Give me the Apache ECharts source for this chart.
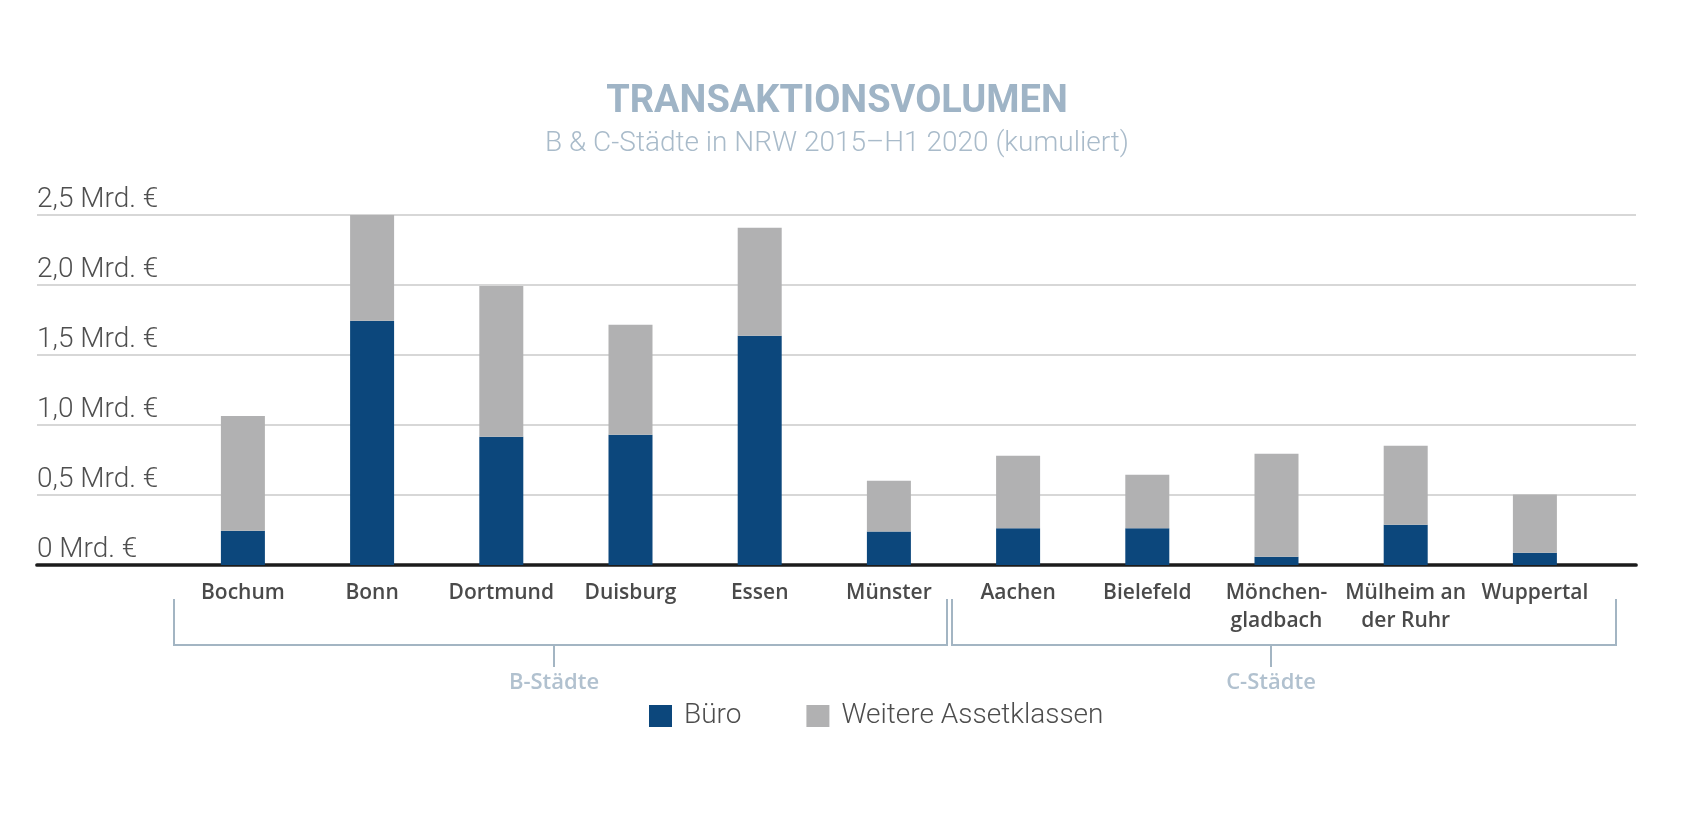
<!DOCTYPE html>
<html>
<head>
<meta charset="utf-8">
<script src="https://cdn.jsdelivr.net/npm/echarts@6/dist/echarts.min.js"></script>
<style>
html,body{margin:0;padding:0;background:#fff;}
#chart{width:1685px;height:835px;}
</style>
</head>
<body>
<div id="chart"></div>
<script>
const categories = ['Bochum','Bonn','Dortmund','Duisburg','Essen','Münster','Aachen','Bielefeld','Mönchen-\ngladbach','Mülheim an\nder Ruhr','Wuppertal'];
const bueroValues = [0.245, 1.745, 0.916, 0.931, 1.638, 0.240, 0.262, 0.262, 0.059, 0.288, 0.088];
const weitereValues = [0.820, 0.765, 1.077, 0.785, 0.771, 0.362, 0.519, 0.383, 0.736, 0.564, 0.415];
const yTickLabels = {0:'0 Mrd. €', 0.5:'0,5 Mrd. €', 1:'1,0 Mrd. €', 1.5:'1,5 Mrd. €', 2:'2,0 Mrd. €', 2.5:'2,5 Mrd. €'};
const groupLabels = ['B-Städte','C-Städte'];
const seriesNames = ['Büro','Weitere Assetklassen'];

const chart = echarts.init(document.getElementById('chart'), null, {renderer:'canvas'});
const bracketColor = '#a3b5c3';
const groupTextStyle = {fill:'#b1c1cf', font:'600 22px "Open Sans"', textAlign:'center', textVerticalAlign:'middle'};

chart.setOption({
  animation:false,
  backgroundColor:'#ffffff',
  title:{
    text:'TRANSAKTIONSVOLUMEN',
    subtext:'B & C-Städte in NRW 2015–H1 2020 (kumuliert)',
    left:832, textAlign:'center', top:78, itemGap:9,
    textStyle:{fontFamily:'Roboto', fontWeight:'bold', fontSize:38, color:'#9fb4c6'},
    subtextStyle:{fontFamily:'Roboto', fontWeight:300, fontSize:28, color:'#a9bbca'}
  },
  legend:{
    data:seriesNames,
    left:649, top:702, padding:0,
    itemWidth:23, itemHeight:22, itemGap:65,
    icon:'rect',
    textStyle:{fontFamily:'Roboto', fontWeight:300, fontSize:28, color:'#4d4d4d', padding:[0,0,0,7]}
  },
  grid:[
    {left:37, right:49, top:215, bottom:270},
    {left:178.3, right:85.5, top:215, bottom:270}
  ],
  xAxis:[
    {type:'value', gridIndex:0, min:0, max:1, show:true,
     axisLine:{show:true, lineStyle:{color:'#1c1c1c', width:3.7}},
     axisTick:{show:false}, axisLabel:{show:false}, splitLine:{show:false}},
    {type:'category', gridIndex:1, data:categories,
     axisLine:{show:false}, axisTick:{show:false},
     axisLabel:{interval:0, margin:14, fontFamily:'Open Sans', fontWeight:600, fontSize:21, lineHeight:28, color:'#4a4a4a'}}
  ],
  yAxis:[
    {type:'value', gridIndex:0, min:0, max:2.5, interval:0.5,
     axisLine:{show:false}, axisTick:{show:false},
     splitLine:{show:true, lineStyle:{color:'#cacaca', width:1.5}},
     axisLabel:{inside:true, margin:0, align:'left', verticalAlign:'bottom', fontFamily:'Roboto', fontWeight:300, fontSize:28, color:'#4f4f4f', lineHeight:30,
       formatter:v => yTickLabels[v] !== undefined ? yTickLabels[v] : ''}},
    {type:'value', gridIndex:1, min:0, max:2.5, interval:0.5, show:false, splitLine:{show:false}}
  ],
  series:[
    {name:seriesNames[0], type:'bar', stack:'total', xAxisIndex:1, yAxisIndex:1, barWidth:44,
     itemStyle:{color:'#0c477c'}, data:bueroValues},
    {name:seriesNames[1], type:'bar', stack:'total', xAxisIndex:1, yAxisIndex:1, barWidth:44,
     itemStyle:{color:'#b1b1b2'}, data:weitereValues}
  ],
  graphic:[
    {type:'polyline', shape:{points:[[174,599],[174,645],[947,645],[947,599]]}, style:{stroke:bracketColor, lineWidth:2, fill:null}},
    {type:'line', shape:{x1:554,y1:645,x2:554,y2:667}, style:{stroke:bracketColor, lineWidth:2}},
    {type:'text', x:554, y:683, style:Object.assign({text:groupLabels[0]}, groupTextStyle)},
    {type:'polyline', shape:{points:[[952,599],[952,645],[1616,645],[1616,599]]}, style:{stroke:bracketColor, lineWidth:2, fill:null}},
    {type:'line', shape:{x1:1271,y1:645,x2:1271,y2:667}, style:{stroke:bracketColor, lineWidth:2}},
    {type:'text', x:1271, y:683, style:Object.assign({text:groupLabels[1]}, groupTextStyle)}
  ]
});
</script>
</body>
</html>
